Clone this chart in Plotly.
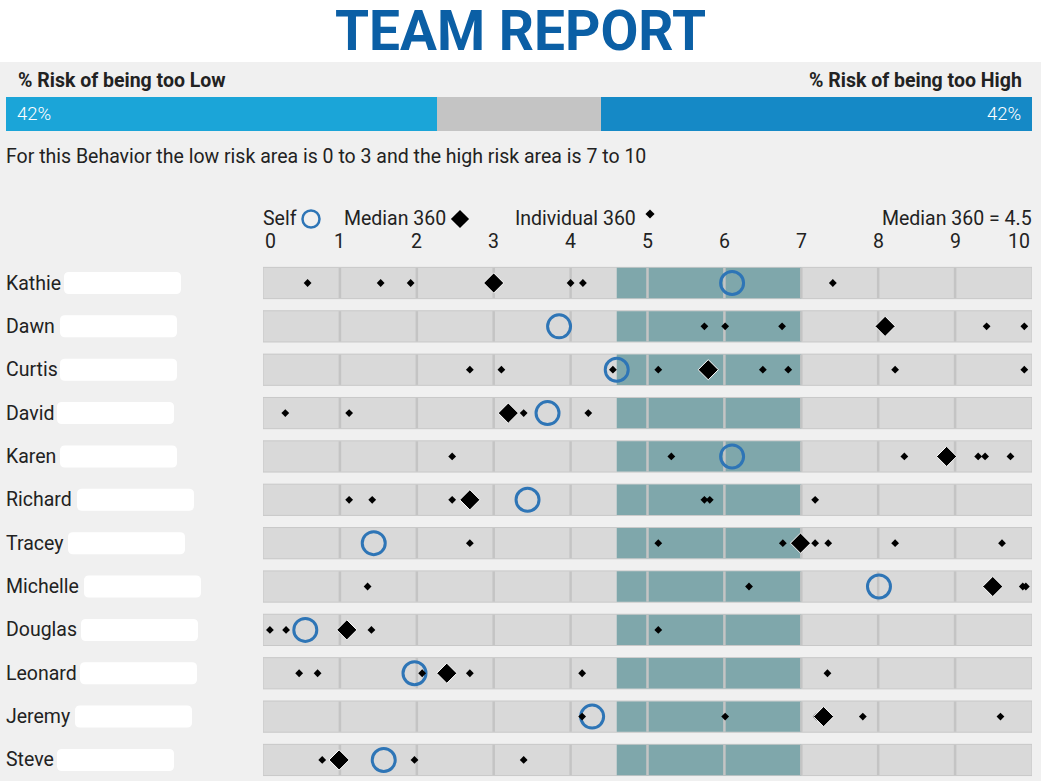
import plotly.graph_objects as go

W, H = 1041, 781

# ---------------- data ----------------
names = ["Kathie", "Dawn", "Curtis", "David", "Karen", "Richard",
         "Tracey", "Michelle", "Douglas", "Leonard", "Jeremy", "Steve"]

self_scores = [6.10, 3.85, 4.60, 3.70, 6.10, 3.44, 1.44, 8.01, 0.55, 1.97, 4.28, 1.57]
median_scores = [3.00, 8.09, 5.79, 3.19, 8.89, 2.69, 6.99, 9.49, 1.09, 2.39, 7.29, 0.99]

ind_kathie = [0.58, 1.53, 1.92, 4.00, 4.16, 7.41]
ind_dawn = [5.74, 6.01, 6.75, 9.41, 9.90]
ind_curtis = [2.69, 3.10, 4.55, 5.14, 6.50, 6.83, 8.22, 9.90]
ind_david = [0.29, 1.12, 3.39, 4.23]
ind_karen = [2.46, 5.31, 8.34, 9.30, 9.39, 9.72]
ind_richard = [1.12, 1.42, 2.46, 5.74, 5.81, 7.18]
ind_tracey = [2.69, 5.14, 6.76, 7.18, 7.35, 8.22, 9.61]
ind_michelle = [1.36, 6.32, 9.88, 9.92]
ind_douglas = [0.09, 0.30, 1.41, 5.14]
ind_leonard = [0.47, 0.71, 2.07, 2.69, 4.15, 7.34]
ind_jeremy = [4.15, 6.01, 7.20, 7.80, 9.59]
ind_steve = [0.77, 1.97, 3.39]

individual_scores = [ind_kathie, ind_dawn, ind_curtis, ind_david, ind_karen, ind_richard,
                     ind_tracey, ind_michelle, ind_douglas, ind_leonard, ind_jeremy, ind_steve]

scale_ticks = list(range(0, 11))
target_low, target_high = 4.6, 7.0
team_median = 4.5

risk_low_pct = 42
risk_high_pct = 42
risk_mid_pct = 100 - risk_low_pct - risk_high_pct

# ---------------- styling ----------------
FONT = "Roboto"
FS = 19.5
TXT = "#222222"
TITLE_BLUE = "#0b5fa5"
SELF_BLUE = "#2e75b6"
ROW_FILL = "#d9d9d9"
ROW_LINE = "#c8c8c8"
GRID = "#c4c4c4"
TEAL = "#7fa7ab"

def px(x):
    return x / W

def py(y):
    return 1 - y / H

ROW0 = 283.0
PITCH = 43.36
y_top = -ROW0 / PITCH
y_bot = (H - ROW0) / PITCH

X0, X1 = 263, 1032

fig = go.Figure()

# top risk bar (stacked horizontal bar)
fig.add_trace(go.Bar(x=[risk_low_pct], y=[0], orientation="h", marker_color="#1ba5d8",
                     marker_line_width=0, xaxis="x2", yaxis="y2", width=1,
                     hoverinfo="skip", showlegend=False))
fig.add_trace(go.Bar(x=[risk_mid_pct], y=[0], orientation="h", marker_color="#c4c4c4",
                     marker_line_width=0, xaxis="x2", yaxis="y2", width=1,
                     hoverinfo="skip", showlegend=False))
fig.add_trace(go.Bar(x=[risk_high_pct], y=[0], orientation="h", marker_color="#1589c6",
                     marker_line_width=0, xaxis="x2", yaxis="y2", width=1,
                     hoverinfo="skip", showlegend=False))

# self scores
fig.add_trace(go.Scatter(x=self_scores, y=list(range(len(names))), mode="markers",
                         marker=dict(symbol="circle-open", size=23, color=SELF_BLUE,
                                     line=dict(width=3, color=SELF_BLUE)),
                         cliponaxis=False, showlegend=False, name="Self"))
# individual 360
ix, iy = [], []
for i, vals in enumerate(individual_scores):
    for v in vals:
        ix.append(v)
        iy.append(i)
fig.add_trace(go.Scatter(x=ix, y=iy, mode="markers",
                         marker=dict(symbol="diamond", size=6, color="black", line=dict(width=0)),
                         cliponaxis=False, showlegend=False, name="Individual 360"))
# median 360
fig.add_trace(go.Scatter(x=median_scores, y=list(range(len(names))), mode="markers",
                         marker=dict(symbol="diamond", size=15.5, color="black",
                                     line=dict(width=1, color="white")),
                         cliponaxis=False, showlegend=False, name="Median 360"))

# legend glyphs (pixel overlay axis)
fig.add_trace(go.Scatter(x=[311], y=[219], mode="markers", xaxis="x3", yaxis="y3",
                         marker=dict(symbol="circle-open", size=17, color=SELF_BLUE,
                                     line=dict(width=2.5, color=SELF_BLUE)),
                         showlegend=False, hoverinfo="skip"))
fig.add_trace(go.Scatter(x=[460], y=[219], mode="markers", xaxis="x3", yaxis="y3",
                         marker=dict(symbol="diamond", size=14, color="black"),
                         showlegend=False, hoverinfo="skip"))
fig.add_trace(go.Scatter(x=[650], y=[214], mode="markers", xaxis="x3", yaxis="y3",
                         marker=dict(symbol="diamond", size=7, color="black"),
                         showlegend=False, hoverinfo="skip"))

shapes = []
# white header
shapes.append(dict(type="rect", xref="paper", yref="paper", x0=0, x1=1, y0=py(62), y1=1,
                   fillcolor="white", line_width=0, layer="below"))

def rrect(x0, x1, y0, y1, r=5):
    # pixel coords -> rounded rect path in paper coords
    rx, ry = r / W, r / H
    a, b = px(x0), px(x1)
    top, bot = py(y0), py(y1)
    return (f"M{a+rx},{top} L{b-rx},{top} Q{b},{top} {b},{top-ry} L{b},{bot+ry} "
            f"Q{b},{bot} {b-rx},{bot} L{a+rx},{bot} Q{a},{bot} {a},{bot+ry} "
            f"L{a},{top-ry} Q{a},{top} {a+rx},{top} Z")

box_left = [64, 60, 60, 57, 60, 77, 68, 84, 81, 80, 75, 57]
half = 0.36
for i in range(len(names)):
    shapes.append(dict(type="rect", xref="x", yref="y", x0=0, x1=10, y0=i - half, y1=i + half,
                       fillcolor=ROW_FILL, line=dict(color=ROW_LINE, width=1), layer="below"))
    shapes.append(dict(type="rect", xref="x", yref="y", x0=target_low, x1=target_high,
                       y0=i - half + 0.01, y1=i + half - 0.01,
                       fillcolor=TEAL, line_width=0, layer="below"))
    for t in scale_ticks[1:-1]:
        shapes.append(dict(type="line", xref="x", yref="y", x0=t, x1=t,
                           y0=i - half + 0.01, y1=i + half - 0.01,
                           line=dict(color=GRID, width=2.5), layer="below"))
    cy = ROW0 + PITCH * i
    shapes.append(dict(type="path", xref="paper", yref="paper",
                       path=rrect(box_left[i], box_left[i] + 117, cy - 11, cy + 11),
                       fillcolor="white", line_width=0, layer="below"))

annotations = []
annotations.append(dict(text="<b>TEAM REPORT</b>", xref="paper", yref="paper", x=0.5, y=py(31),
                        xanchor="center", yanchor="middle", showarrow=False,
                        font=dict(family=FONT, size=55, color=TITLE_BLUE)))
annotations.append(dict(text="<b>% Risk of being too Low</b>", xref="paper", yref="paper",
                        x=px(16), y=py(81), xanchor="left", yanchor="middle", showarrow=False,
                        font=dict(family=FONT, size=FS, color=TXT)))
annotations.append(dict(text="<b>% Risk of being too High</b>", xref="paper", yref="paper",
                        x=px(1024), y=py(81), xanchor="right", yanchor="middle", showarrow=False,
                        font=dict(family=FONT, size=FS, color=TXT)))
annotations.append(dict(text=f"{risk_low_pct}%", xref="x2", yref="paper", x=0, xshift=9,
                        y=py(114), xanchor="left", yanchor="middle", showarrow=False,
                        font=dict(family=FONT, size=18.5, color="white", weight=300)))
annotations.append(dict(text=f"{risk_high_pct}%", xref="x2", yref="paper", x=100, xshift=-9,
                        y=py(114), xanchor="right", yanchor="middle", showarrow=False,
                        font=dict(family=FONT, size=18.5, color="white", weight=300)))
annotations.append(dict(text="For this Behavior the low risk area is 0 to 3 and the high risk area is 7 to 10",
                        xref="paper", yref="paper", x=px(4), y=py(157), xanchor="left",
                        yanchor="middle", showarrow=False,
                        font=dict(family=FONT, size=FS, color=TXT)))
for txt, x in [("Self", 261), ("Median 360", 342), ("Individual 360", 513)]:
    annotations.append(dict(text=txt, xref="paper", yref="paper", x=px(x), y=py(219),
                            xanchor="left", yanchor="middle", showarrow=False,
                            font=dict(family=FONT, size=FS, color=TXT)))
annotations.append(dict(text=f"Median 360 = {team_median}", xref="paper", yref="paper",
                        x=px(1034), y=py(219), xanchor="right", yanchor="middle",
                        showarrow=False, font=dict(family=FONT, size=FS, color=TXT)))
for t in scale_ticks:
    anchor = "left" if t == scale_ticks[0] else ("right" if t == scale_ticks[-1] else "center")
    annotations.append(dict(text=str(t), xref="x", yref="paper", x=t, y=py(241),
                            xanchor=anchor, yanchor="middle", showarrow=False,
                            font=dict(family=FONT, size=FS, color=TXT)))
for i, n in enumerate(names):
    annotations.append(dict(text=n, xref="paper", yref="y", x=px(4), y=i,
                            xanchor="left", yanchor="middle", showarrow=False,
                            font=dict(family=FONT, size=FS, color=TXT)))

fig.update_layout(
    width=W, height=H,
    margin=dict(l=0, r=0, t=0, b=0),
    paper_bgcolor="#f0f0f0", plot_bgcolor="rgba(0,0,0,0)",
    barmode="stack", bargap=0,
    showlegend=False,
    xaxis=dict(domain=[px(X0), px(X1)], range=[0, 10], visible=False, fixedrange=True),
    yaxis=dict(domain=[0, 1], range=[y_bot, y_top], visible=False, fixedrange=True),
    xaxis2=dict(domain=[px(6), px(1032)], range=[0, 100], visible=False, anchor="y2"),
    yaxis2=dict(domain=[py(131), py(97)], range=[-0.5, 0.5], visible=False, anchor="x2"),
    xaxis3=dict(domain=[0, 1], range=[0, W], visible=False, anchor="y3"),
    yaxis3=dict(domain=[0, 1], range=[H, 0], visible=False, anchor="x3"),
    shapes=shapes, annotations=annotations,
    font=dict(family=FONT, color=TXT),
)

fig.write_html("out.html", config={"displayModeBar": False},
               post_script="document.body.style.margin='0';")
